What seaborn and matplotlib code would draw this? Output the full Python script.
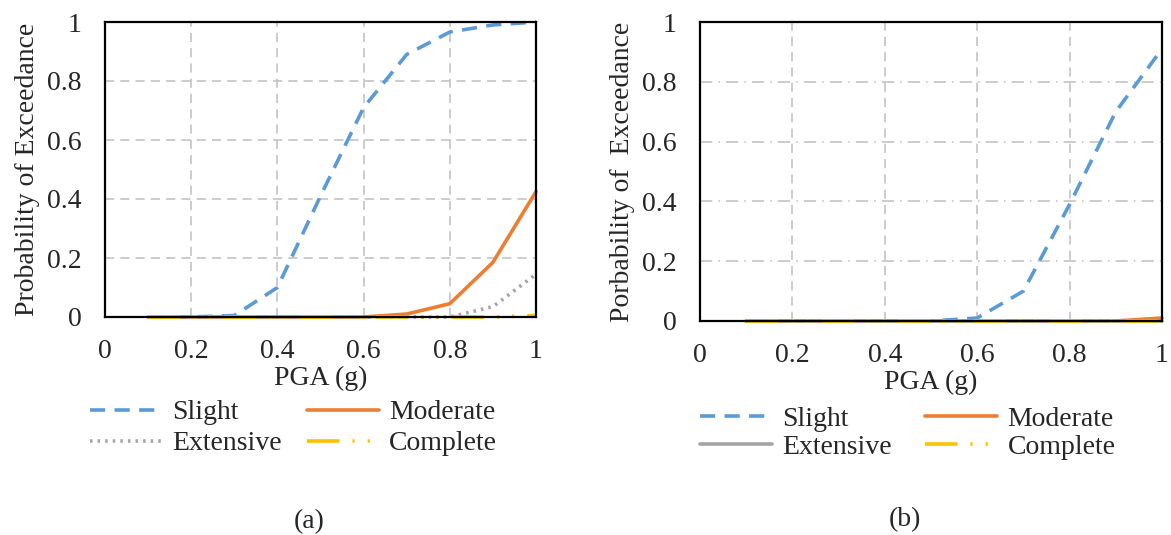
import seaborn as sns
import matplotlib.pyplot as plt
from matplotlib.ticker import FuncFormatter

# PGA levels (g)
pga = [0.1, 0.2, 0.3, 0.4, 0.5, 0.6, 0.7, 0.8, 0.9, 1.0]

# (a) fragility curves
a_slight = [0, 0, 0.005, 0.10, 0.41, 0.71, 0.89, 0.966, 0.99, 1.0]
a_moderate = [0, 0, 0, 0, 0, 0, 0.01, 0.045, 0.185, 0.425]
a_extensive = [0, 0, 0, 0, 0, 0, 0, 0, 0.035, 0.145]
a_complete = [0, 0, 0, 0, 0, 0, 0, 0, 0, 0.005]

# (b) fragility curves
b_slight = [0, 0, 0, 0, 0, 0.01, 0.10, 0.39, 0.70, 0.91]
b_moderate = [0, 0, 0, 0, 0, 0, 0, 0, 0, 0.01]
b_extensive = [0, 0, 0, 0, 0, 0, 0, 0, 0, 0]
b_complete = [0, 0, 0, 0, 0, 0, 0, 0, 0, 0]

ticks = [0, 0.2, 0.4, 0.6, 0.8, 1.0]
labels = ['Slight', 'Moderate', 'Extensive', 'Complete']

sns.set_style('white')
plt.rcParams['font.family'] = ['Liberation Serif', 'DejaVu Serif']
FS = 20

blue, orange, gray, yellow = '#5B9BD5', '#ED7D31', '#A5A5A5', '#FFC000'
LW = 2.6
dashed = (0, (4.2, 2.6))
dotted = (0, (0.7, 1.4))
dash_dotdot = (0, (9, 3.6, 0.6, 3.6, 0.6, 3.6))

fig = plt.figure(figsize=(11.71, 5.35), dpi=100)
W, H = 1171, 535
ax1 = fig.add_axes([105 / W, 1 - 317 / H, 431 / W, 295 / H])
ax2 = fig.add_axes([700 / W, 1 - 321 / H, 462 / W, 299 / H])

fmt = FuncFormatter(lambda v, p: '%g' % v)


def setup(ax, ylabel, hgrid):
    ax.set_xlim(0, 1)
    ax.set_ylim(0, 1)
    ax.set_xticks(ticks)
    ax.set_yticks(ticks)
    ax.xaxis.set_major_formatter(fmt)
    ax.yaxis.set_major_formatter(fmt)
    ax.tick_params(length=0, labelsize=FS)
    ax.tick_params(axis='x', pad=16)
    ax.tick_params(axis='y', pad=17)
    for x in ticks[1:-1]:
        ax.axvline(x, color='#BFBFBF', lw=1.1, ls=(0, (6, 4)), zorder=0)
    for y in ticks[1:-1]:
        ax.axhline(y, color='#BFBFBF', lw=1.1, ls=hgrid, zorder=0)
    for s in ax.spines.values():
        s.set_color('black')
        s.set_linewidth(1.6)
    ax.set_xlabel('PGA (g)', fontsize=FS, labelpad=1)
    ax.set_ylabel(ylabel, fontsize=FS, labelpad=5)


setup(ax1, 'Probability of Exceedance', (0, (6, 4)))
setup(ax2, 'Porbability of  Exceedance', (0, (8, 4, 1, 4)))

sns.lineplot(x=pga, y=a_slight, ax=ax1, color=blue, lw=LW, linestyle=dashed, label=labels[0])
sns.lineplot(x=pga, y=a_moderate, ax=ax1, color=orange, lw=LW, label=labels[1])
sns.lineplot(x=pga, y=a_extensive, ax=ax1, color=gray, lw=LW, linestyle=dotted, label=labels[2])
sns.lineplot(x=pga, y=a_complete, ax=ax1, color=yellow, lw=LW, linestyle=dash_dotdot, label=labels[3])

sns.lineplot(x=pga, y=b_slight, ax=ax2, color=blue, lw=LW, linestyle=dashed, label=labels[0])
sns.lineplot(x=pga, y=b_moderate, ax=ax2, color=orange, lw=LW, label=labels[1])
sns.lineplot(x=pga, y=b_extensive, ax=ax2, color=gray, lw=LW, label=labels[2])
sns.lineplot(x=pga, y=b_complete, ax=ax2, color=yellow, lw=LW, linestyle=dash_dotdot, label=labels[3])

# legends below each panel, rows: Slight/Moderate, Extensive/Complete
for ax, x0, ymid, sp, cs in ((ax1, 90, 428, 0.2, 0.9), (ax2, 700, 433, 0.1, 1.2)):
    for ln in ax.get_lines():
        ln.set_clip_on(False)
    h, l = ax.get_legend_handles_labels()
    order = [0, 2, 1, 3]
    ax.legend([h[i] for i in order], [l[i] for i in order],
              loc='center left', bbox_to_anchor=(x0 / W, 1 - ymid / H),
              bbox_transform=fig.transFigure, ncol=2, frameon=False,
              fontsize=FS, handlelength=2.6, handletextpad=0.36, columnspacing=cs,
              labelspacing=sp, borderpad=0, borderaxespad=0)

fig.text(309 / W, 1 - 522 / H, '(a)', ha='center', va='center', fontsize=FS)
fig.text(905 / W, 1 - 520 / H, '(b)', ha='center', va='center', fontsize=FS)

fig.savefig('out.png', dpi=100)
